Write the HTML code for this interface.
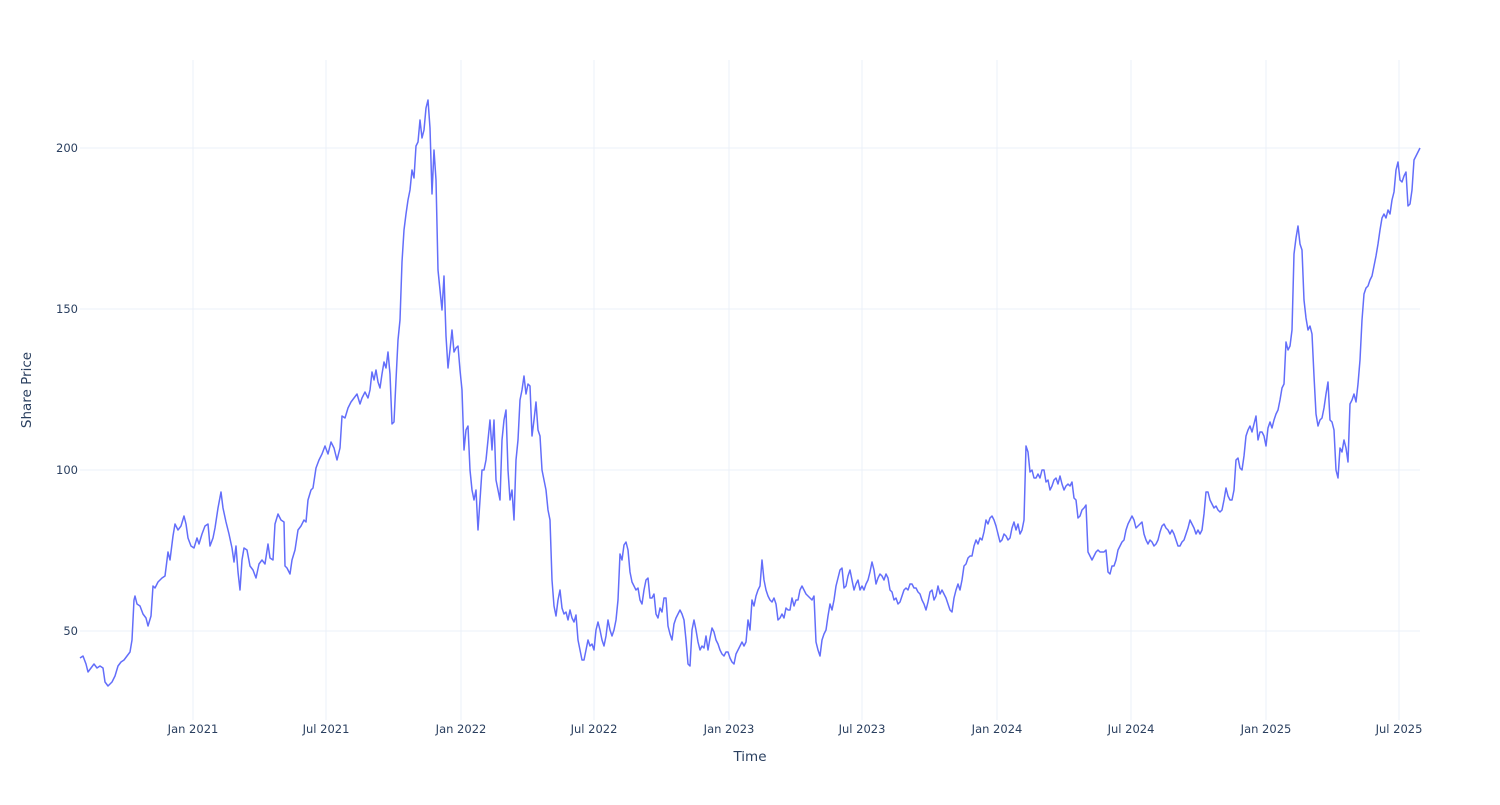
<!DOCTYPE html>
<html><head><meta charset="utf-8"><style>
html,body{margin:0;padding:0;background:#fff;}
svg text{font-family:"DejaVu Sans","Liberation Sans",sans-serif;fill:#2a3f5f;}
</style></head><body>
<svg width="1500" height="800" viewBox="0 0 1500 800" xmlns="http://www.w3.org/2000/svg">
<rect width="1500" height="800" fill="#fff"/>
<g stroke="#ebf0f8" stroke-width="1">
<line x1="80" x2="1420" y1="148" y2="148"/>
<line x1="80" x2="1420" y1="309" y2="309"/>
<line x1="80" x2="1420" y1="470" y2="470"/>
<line x1="80" x2="1420" y1="631" y2="631"/>
<line y1="60" y2="720" x1="193" x2="193"/>
<line y1="60" y2="720" x1="326" x2="326"/>
<line y1="60" y2="720" x1="461" x2="461"/>
<line y1="60" y2="720" x1="594" x2="594"/>
<line y1="60" y2="720" x1="729" x2="729"/>
<line y1="60" y2="720" x1="862" x2="862"/>
<line y1="60" y2="720" x1="997" x2="997"/>
<line y1="60" y2="720" x1="1131" x2="1131"/>
<line y1="60" y2="720" x1="1266" x2="1266"/>
<line y1="60" y2="720" x1="1399" x2="1399"/>
</g>
<g font-size="11.5" text-anchor="end">
<text x="78" y="152">200</text>
<text x="78" y="313">150</text>
<text x="78" y="474">100</text>
<text x="78" y="635">50</text>
</g>
<g font-size="11.5" text-anchor="middle">
<text x="193" y="733">Jan 2021</text>
<text x="326" y="733">Jul 2021</text>
<text x="461" y="733">Jan 2022</text>
<text x="594" y="733">Jul 2022</text>
<text x="729" y="733">Jan 2023</text>
<text x="862" y="733">Jul 2023</text>
<text x="997" y="733">Jan 2024</text>
<text x="1131" y="733">Jul 2024</text>
<text x="1266" y="733">Jan 2025</text>
<text x="1399" y="733">Jul 2025</text>
</g>
<text x="750" y="761" font-size="13.5" text-anchor="middle">Time</text>
<text x="0" y="0" font-size="13.5" text-anchor="middle" transform="translate(31,390) rotate(-90)">Share Price</text>
<polyline fill="none" stroke="#636efa" stroke-width="1.5" stroke-linejoin="round" points="80,658 83,656 86,664 88,672 91,668 94,664 97,668 100,666 103,668 105,682 108,686 112,682 115,676 118,666 121,662 124,660 127,656 130,652 132,640 134,600 135,596 137,604 140,606 143,614 146,618 148,626 151,616 153,586 155,588 158,582 162,578 165,576 168,552 170,560 173,536 175,524 178,530 181,526 184,516 186,524 188,538 191,546 194,548 197,538 199,544 202,534 205,526 208,524 210,546 213,538 215,528 218,508 221,492 223,508 226,522 229,534 232,548 234,562 236,546 238,572 240,590 242,560 244,548 247,550 250,566 253,570 256,578 259,564 262,560 265,564 268,544 270,558 273,560 275,524 278,514 281,520 284,522 285,566 287,568 290,574 292,560 295,550 298,530 301,526 304,520 306,522 308,500 311,490 313,488 316,468 319,460 322,454 325,446 328,454 331,442 334,448 337,460 340,448 342,416 345,418 348,408 351,402 354,398 357,394 360,404 362,398 365,392 368,398 370,390 372,372 374,380 376,370 378,382 380,388 382,374 384,362 386,368 388,352 390,374 392,424 394,422 396,380 398,340 400,320 402,262 404,230 406,214 408,200 410,190 412,170 414,178 416,146 418,142 420,120 422,138 424,130 426,108 428,100 430,128 432,194 434,150 436,180 438,270 440,290 442,310 444,276 446,336 448,368 450,350 452,330 454,352 456,348 458,346 460,370 462,390 464,450 466,430 468,426 470,470 472,490 474,500 476,490 478,530 480,500 482,470 484,470 486,460 488,440 490,420 492,450 494,420 496,480 498,490 500,500 502,440 504,420 506,410 508,470 510,500 512,490 514,520 516,460 518,440 520,400 522,390 524,376 526,394 528,384 530,386 532,436 534,420 536,402 538,430 540,436 542,470 544,480 546,490 548,510 550,520 552,580 554,606 556,616 558,600 560,590 562,608 564,614 566,612 568,620 570,610 572,618 574,622 576,615 578,640 580,650 582,660 584,660 586,650 588,640 590,646 592,644 594,650 596,630 598,622 600,630 602,640 604,646 606,636 608,620 610,630 612,636 614,630 616,620 618,600 620,554 622,560 624,545 626,542 628,550 630,572 632,582 634,586 636,590 638,588 640,600 642,604 644,590 646,580 648,578 650,598 652,598 654,594 656,614 658,618 660,608 662,612 664,598 666,598 668,626 670,634 672,640 674,624 676,618 678,614 680,610 682,614 684,620 686,640 688,664 690,666 692,630 694,620 696,630 698,642 700,650 702,646 704,648 706,636 708,650 710,638 712,628 714,632 716,640 718,644 720,650 722,654 724,656 726,652 728,652 730,658 732,662 734,664 736,654 738,650 740,646 742,642 744,646 746,642 748,620 750,630 752,600 754,606 756,596 758,590 760,586 762,560 764,580 766,590 768,596 770,600 772,602 774,598 776,604 778,620 780,618 782,614 784,618 786,608 788,610 790,610 792,598 794,606 796,600 798,600 800,590 802,586 804,590 806,594 808,596 810,598 812,600 814,596 816,642 818,650 820,656 822,640 824,634 826,630 828,616 830,604 832,610 834,600 836,586 838,578 840,570 842,568 844,588 846,586 848,576 850,570 852,580 854,590 856,584 858,580 860,590 862,586 864,590 866,584 868,580 870,572 872,562 874,570 876,584 878,578 880,574 882,576 884,580 886,574 888,578 890,590 892,592 894,600 896,598 898,604 900,602 902,596 904,590 906,588 908,590 910,584 912,584 914,588 916,588 918,592 920,594 922,600 924,604 926,610 928,602 930,592 932,590 934,600 936,596 938,586 940,594 942,590 944,594 946,598 948,604 950,610 952,612 954,598 956,590 958,584 960,590 962,580 964,566 966,564 968,558 970,556 972,556 974,546 976,540 978,544 980,538 982,540 984,532 986,520 988,524 990,518 992,516 994,520 996,526 998,534 1000,542 1002,540 1004,534 1006,536 1008,540 1010,538 1012,528 1014,522 1016,530 1018,524 1020,534 1022,530 1024,520 1026,446 1028,452 1030,472 1032,470 1034,478 1036,478 1038,474 1040,478 1042,470 1044,470 1046,482 1048,480 1050,490 1052,486 1054,480 1056,478 1058,484 1060,476 1062,484 1064,490 1066,486 1068,484 1070,486 1072,482 1074,498 1076,500 1078,518 1080,516 1082,510 1084,508 1086,505 1088,552 1090,556 1092,560 1094,556 1096,552 1098,550 1100,552 1102,552 1104,552 1106,550 1108,572 1110,574 1112,566 1114,566 1116,560 1118,550 1120,546 1122,542 1124,540 1126,530 1128,524 1130,520 1132,516 1134,520 1136,528 1138,526 1140,524 1142,522 1144,534 1146,540 1148,544 1150,540 1152,542 1154,546 1156,544 1158,540 1160,532 1162,526 1164,524 1166,528 1168,530 1170,534 1172,530 1174,534 1176,540 1178,546 1180,546 1182,542 1184,540 1186,534 1188,528 1190,520 1192,524 1194,528 1196,534 1198,530 1200,534 1202,530 1204,514 1206,492 1208,492 1210,500 1212,504 1214,508 1216,506 1218,510 1220,512 1222,510 1224,500 1226,488 1228,496 1230,500 1232,500 1234,490 1236,460 1238,458 1240,468 1242,470 1244,456 1246,436 1248,430 1250,426 1252,432 1254,424 1256,416 1258,440 1260,432 1262,432 1264,436 1266,446 1268,428 1270,422 1272,428 1274,420 1276,414 1278,410 1280,400 1282,388 1284,384 1286,342 1288,350 1290,346 1292,330 1294,254 1296,238 1298,226 1300,244 1302,250 1304,300 1306,318 1308,330 1310,326 1312,334 1314,376 1316,414 1318,426 1320,420 1322,418 1324,408 1326,394 1328,382 1330,420 1332,422 1334,430 1336,470 1338,478 1340,448 1342,452 1344,440 1346,448 1348,462 1350,404 1352,400 1354,394 1356,402 1358,384 1360,360 1362,320 1364,294 1366,288 1368,286 1370,280 1372,276 1374,266 1376,256 1378,244 1380,230 1382,218 1384,214 1386,218 1388,210 1390,214 1392,200 1394,192 1396,170 1398,162 1400,180 1402,182 1404,176 1406,172 1408,206 1410,204 1412,190 1414,160 1416,156 1418,152 1420,148"/>
</svg>
</body></html>
